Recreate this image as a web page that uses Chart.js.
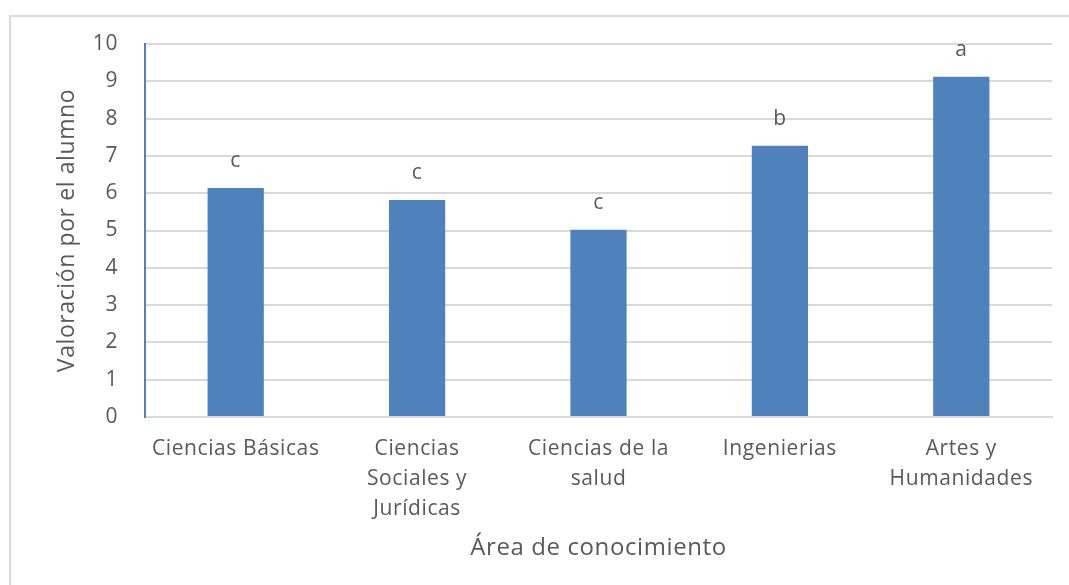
<!DOCTYPE html>
<html>
<head>
<meta charset="utf-8">
<script src="https://cdn.jsdelivr.net/npm/chart.js@4.4.1/dist/chart.umd.min.js"></script>
<style>
    html, body { margin: 0; padding: 0; background: #fff; overflow: hidden; }
    #wrap { position: relative; width: 1069px; height: 585px; }
    #frame {
        position: absolute; left: 9px; top: 15px;
        width: 1100px; height: 620px;
        border: 2px solid #d9d9d9; box-sizing: border-box;
    }
    canvas { position: absolute; left: 0; top: 0; }
</style>
</head>
<body>
<div id="wrap">
    <div id="frame"></div>
    <canvas id="chart" width="1069" height="585"></canvas>
</div>
<script>
// data
const areas = [
    'Ciencias Básicas',
    ['Ciencias', 'Sociales y', 'Jurídicas'],
    ['Ciencias de la', 'salud'],
    'Ingenierias',
    ['Artes y', 'Humanidades']
];
const valoracion = [6.14, 5.82, 5.02, 7.27, 9.12];
const grupos = ['c', 'c', 'c', 'b', 'a'];

const textColor = '#595959';
const barColor = '#4f81bd';
const fontFamily = '"Open Sans", "Noto Sans", sans-serif';

// the original text is a bit wider spaced
const spacingPlugin = {
    id: 'spacing',
    beforeLayout(chart) { chart.ctx.letterSpacing = '0.6px'; },
    beforeDraw(chart) { chart.ctx.letterSpacing = '0.6px'; }
};

// letters above each bar
const letterPlugin = {
    id: 'letters',
    afterDatasetsDraw(chart) {
        const ctx = chart.ctx;
        const meta = chart.getDatasetMeta(0);
        ctx.save();
        ctx.fillStyle = textColor;
        ctx.font = '21px ' + fontFamily;
        ctx.textAlign = 'center';
        ctx.textBaseline = 'middle';
        meta.data.forEach((bar, i) => {
            ctx.fillText(grupos[i], bar.x, bar.y - 27);
        });
        ctx.restore();
    }
};

new Chart(document.getElementById('chart'), {
    type: 'bar',
    data: {
        labels: areas,
        datasets: [{
            data: valoracion,
            backgroundColor: barColor,
            borderWidth: 0,
            categoryPercentage: 1,
            barPercentage: 0.31
        }]
    },
    options: {
        responsive: false,
        animation: false,
        layout: { padding: { top: 44, right: 17, bottom: 0, left: 0 } },
        plugins: {
            legend: { display: false },
            tooltip: { enabled: false }
        },
        scales: {
            x: {
                grid: { display: false, drawTicks: false },
                border: { color: '#d9d9d9', width: 2 },
                ticks: {
                    color: textColor,
                    font: { family: fontFamily, size: 21, lineHeight: 1.42 },
                    padding: 17,
                    maxRotation: 0,
                    autoSkip: false
                },
                title: {
                    display: true,
                    text: 'Área de conocimiento',
                    color: textColor,
                    font: { family: fontFamily, size: 24 },
                    padding: { top: 0, bottom: 22 }
                },
                afterFit: (scale) => { scale.height = 168; }
            },
            y: {
                min: 0,
                max: 10,
                ticks: {
                    stepSize: 1,
                    color: textColor,
                    font: { family: fontFamily, size: 21 },
                    padding: 27
                },
                grid: { color: '#d9d9d9', lineWidth: 2, drawTicks: false },
                border: { color: barColor, width: 2 },
                title: {
                    display: true,
                    text: 'Valoración por el alumno',
                    color: textColor,
                    font: { family: fontFamily, size: 23 },
                    padding: { top: 54, bottom: 0 }
                },
                afterFit: (scale) => { scale.width = 145; }
            }
        }
    },
    plugins: [spacingPlugin, letterPlugin]
});
</script>
</body>
</html>
